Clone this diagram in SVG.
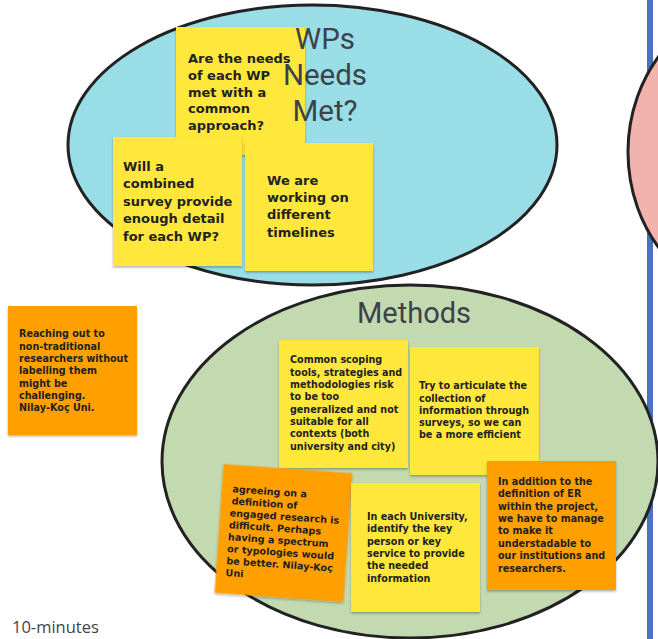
<svg xmlns="http://www.w3.org/2000/svg" width="658" height="639" viewBox="0 0 658 639">
<style>
.ell{stroke:#222;stroke-width:3}
.note-y{fill:#ffe83b;filter:url(#sh)}
.note-o{fill:#ff9f00;filter:url(#sh)}
.t{font-family:"DejaVu Sans",Verdana,sans-serif;font-weight:bold;fill:#222}
.big{font-size:13px}
.sm{font-size:9.6px}
.title{font-family:Roboto,"Liberation Sans",sans-serif;fill:#3d4248;text-anchor:middle}
</style>
<defs>
<filter id="sh" x="-10%" y="-10%" width="120%" height="125%">
<feDropShadow dx="0" dy="1.5" stdDeviation="1.2" flood-color="#000" flood-opacity="0.3"/>
</filter>
</defs>
<rect width="658" height="639" fill="#fff"/>
<rect x="647" y="0" width="6" height="639" fill="#4a72bf"/>
<g id="pink-area"><ellipse class="ell" cx="762" cy="152" rx="134" ry="150" fill="#f2b2ae"/></g>
<g id="wps-area"><ellipse class="ell" cx="312.5" cy="145" rx="244.5" ry="140" fill="#99dde6"/></g>
<g id="methods-area"><ellipse class="ell" cx="410" cy="461.5" rx="248" ry="176.5" fill="#c3d9b0"/></g>
<g id="connectors"></g>

<g id="note-needs">
<rect class="note-y" x="176" y="27" width="129" height="128"/>
<text class="t big" x="188"><tspan x="188" y="63">Are the needs</tspan><tspan x="188" y="80">of each WP</tspan><tspan x="188" y="97">met with a</tspan><tspan x="188" y="113">common</tspan><tspan x="188" y="130">approach?</tspan></text>
</g>
<g id="title-wps">
<text class="title" font-size="29.5"><tspan x="325" y="49">WPs</tspan><tspan x="325" y="85">Needs</tspan><tspan x="325" y="121">Met?</tspan></text>
</g>
<g id="note-combined">
<rect class="note-y" x="113" y="137" width="129" height="129"/>
<text class="t big"><tspan x="123" y="171">Will a</tspan><tspan x="123" y="188">combined</tspan><tspan x="123" y="206">survey provide</tspan><tspan x="123" y="223">enough detail</tspan><tspan x="123" y="241">for each WP?</tspan></text>
</g>
<g id="note-timelines">
<rect class="note-y" x="245" y="143" width="128" height="128"/>
<text class="t big"><tspan x="267" y="185">We are</tspan><tspan x="267" y="202">working on</tspan><tspan x="267" y="219">different</tspan><tspan x="267" y="237">timelines</tspan></text>
</g>

<g id="note-reaching">
<rect class="note-o" x="8" y="306" width="129" height="129"/>
<text class="t sm"><tspan x="19" y="337">Reaching out to</tspan><tspan x="19" y="349.5">non-traditional</tspan><tspan x="19" y="362">researchers without</tspan><tspan x="19" y="374">labelling them</tspan><tspan x="19" y="386.5">might be</tspan><tspan x="19" y="399">challenging.</tspan><tspan x="19" y="411">Nilay-Koç Uni.</tspan></text>
</g>

<g id="title-methods">
<text class="title" font-size="29" x="414" y="323">Methods</text>
</g>
<g id="note-common">
<rect class="note-y" x="279" y="340" width="129" height="128"/>
<text class="t sm"><tspan x="290" y="363">Common scoping</tspan><tspan x="290" y="376">tools, strategies and</tspan><tspan x="290" y="388">methodologies risk</tspan><tspan x="290" y="400">to be too</tspan><tspan x="290" y="413">generalized and not</tspan><tspan x="290" y="425">suitable for all</tspan><tspan x="290" y="437">contexts (both</tspan><tspan x="290" y="450">university and city)</tspan></text>
</g>
<g id="note-articulate">
<rect class="note-y" x="410" y="347" width="129" height="128"/>
<text class="t sm"><tspan x="419" y="389">Try to articulate the</tspan><tspan x="419" y="402">collection of</tspan><tspan x="419" y="414">information through</tspan><tspan x="419" y="426">surveys, so we can</tspan><tspan x="419" y="438">be a more efficient</tspan></text>
</g>
<g id="note-agreeing" transform="translate(283.5,533) rotate(4)">
<rect class="note-o" x="-64.5" y="-64.5" width="129" height="129"/>
<text class="t sm"><tspan x="-54" y="-37">agreeing on a</tspan><tspan x="-54" y="-25">definition of</tspan><tspan x="-55" y="-13">engaged research is</tspan><tspan x="-55" y="-1">difficult. Perhaps</tspan><tspan x="-55" y="11">having a spectrum</tspan><tspan x="-55" y="23">or typologies would</tspan><tspan x="-55" y="35">be better. Nilay-Koç</tspan><tspan x="-55" y="47">Uni</tspan></text>
</g>
<g id="note-university">
<rect class="note-y" x="351" y="483" width="129" height="129"/>
<text class="t sm"><tspan x="367" y="520">In each University,</tspan><tspan x="367" y="532">identify the key</tspan><tspan x="367" y="545">person or key</tspan><tspan x="367" y="557">service to provide</tspan><tspan x="367" y="569">the needed</tspan><tspan x="367" y="582">information</tspan></text>
</g>
<g id="note-addition">
<rect class="note-o" x="487" y="461" width="129" height="129"/>
<text class="t sm"><tspan x="498" y="485">In addition to the</tspan><tspan x="498" y="497">definition of ER</tspan><tspan x="498" y="510">within the project,</tspan><tspan x="498" y="522">we have to manage</tspan><tspan x="498" y="534">to make it</tspan><tspan x="498" y="547">understadable to</tspan><tspan x="498" y="559">our institutions and</tspan><tspan x="498" y="572">researchers.</tspan></text>
</g>

<g id="label-time">
<text x="12" y="633" font-family="'Open Sans','Liberation Sans',sans-serif" font-size="16.5" fill="#444">10-minutes</text>
</g>
<rect x="653" y="0" width="5" height="639" fill="#fff" opacity="0"/>
</svg>
